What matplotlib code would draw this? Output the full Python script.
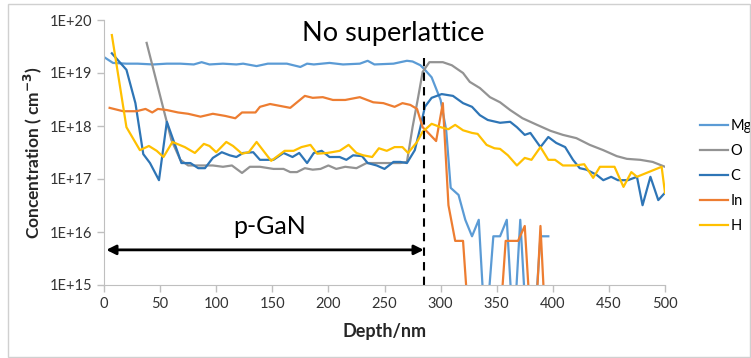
import numpy as np
import matplotlib
matplotlib.use('Agg')
import matplotlib.pyplot as plt
from matplotlib.patches import Rectangle

plt.rcParams['font.family'] = ['Lato', 'DejaVu Sans']

# SIMS depth profiles (depth in nm, concentration in cm^-3)
# 1e14 marks points that fall below the bottom of the axis
mg_depth = [0, 8, 20, 30, 44, 56, 68, 80, 87, 94, 106, 118, 124, 136, 146, 151, 163, 175, 181, 187,
            201, 213, 228, 235, 241, 258, 270, 275, 282, 286, 292, 300, 305, 309, 316, 322, 328, 334,
            340, 347, 353, 359, 365, 371, 377, 383, 389, 396]
mg_conc = [2.0e19, 1.55e19, 1.5e19, 1.5e19, 1.45e19, 1.5e19, 1.5e19, 1.45e19, 1.6e19, 1.45e19, 1.5e19,
           1.45e19, 1.5e19, 1.35e19, 1.5e19, 1.5e19, 1.5e19, 1.3e19, 1.5e19, 1.45e19, 1.55e19, 1.45e19,
           1.5e19, 1.7e19, 1.45e19, 1.5e19, 1.7e19, 1.65e19, 1.4e19, 1.15e19, 8.3e18, 3.1e18, 8.3e17,
           6.8e16, 5.0e16, 1.7e16, 8.3e15, 1.7e16, 1e14, 8.3e15, 8.3e15, 1.7e16, 1e14, 1.7e16, 1e14,
           1e14, 8.3e15, 8.3e15]

o_depth = [38, 60, 68, 75, 86, 97, 106, 114, 123, 130, 139, 151, 160, 166, 172, 179, 186, 193, 200, 207,
           215, 225, 234, 246, 255, 264, 270, 275, 280, 284, 290, 302, 310, 320, 326, 335, 344, 353, 362,
           373, 386, 398, 409, 421, 433, 445, 457, 466, 478, 489, 500]
o_conc = [3.7e19, 5.5e17, 2.3e17, 1.8e17, 1.8e17, 1.8e17, 1.7e17, 1.8e17, 1.3e17, 1.7e17, 1.7e17, 1.55e17,
          1.55e17, 1.35e17, 1.35e17, 1.6e17, 1.5e17, 1.55e17, 1.8e17, 1.55e17, 1.7e17, 1.6e17, 2.0e17,
          2.0e17, 2.0e17, 2.0e17, 2.1e17, 9.5e17, 3.5e18, 1.05e19, 1.6e19, 1.6e19, 1.4e19, 1.0e19, 6.8e18,
          5.2e18, 3.5e18, 2.8e18, 2.0e18, 1.4e18, 1.05e18, 8.1e17, 6.8e17, 5.9e17, 4.4e17, 3.5e17, 2.7e17,
          2.4e17, 2.3e17, 2.1e17, 1.7e17]

c_depth = [7, 20, 28, 35, 41, 49, 56, 65, 69, 77, 84, 90, 97, 105, 112, 118, 124, 133, 139, 151, 160, 168,
           174, 181, 187, 194, 201, 210, 216, 222, 230, 235, 243, 250, 258, 264, 270, 277, 282, 286, 292,
           301, 311, 320, 328, 335, 342, 353, 362, 368, 375, 380, 389, 396, 403, 411, 418, 424, 430, 439,
           445, 452, 458, 467, 475, 480, 487, 494, 500]
c_conc = [2.35e19, 1.15e19, 2.7e18, 2.95e17, 2.0e17, 9.5e16, 1.2e18, 3.5e17, 2.0e17, 2.0e17, 1.6e17,
          1.6e17, 2.5e17, 3.2e17, 2.8e17, 2.6e17, 3.1e17, 3.2e17, 2.3e17, 2.3e17, 3.1e17, 2.6e17, 3.1e17,
          2.0e17, 3.1e17, 3.4e17, 2.6e17, 2.6e17, 2.3e17, 2.8e17, 2.7e17, 2.0e17, 1.8e17, 1.55e17, 2.1e17,
          2.1e17, 2.0e17, 3.5e17, 9.5e17, 2.3e18, 3.4e18, 4.0e18, 3.7e18, 2.7e18, 2.3e18, 1.6e18, 1.3e18,
          1.15e18, 1.2e18, 9.5e17, 6.8e17, 7.4e17, 4.0e17, 6.2e17, 4.8e17, 4.0e17, 2.3e17, 1.6e17, 1.5e17,
          1.2e17, 9.5e16, 1.1e17, 9.5e16, 9.5e16, 1.1e17, 3.2e16, 1.1e17, 4.0e16, 5.5e16]

in_depth = [5, 17, 29, 37, 43, 48, 56, 66, 75, 86, 97, 108, 117, 123, 135, 139, 148, 166, 179, 186, 195,
            204, 215, 228, 240, 249, 259, 266, 273, 279, 284, 288, 296, 302, 307, 313, 320, 326, 352, 358,
            364, 369, 375, 381, 384, 389, 394]
in_conc = [2.2e18, 1.9e18, 1.9e18, 2.1e18, 1.8e18, 2.1e18, 2.0e18, 1.8e18, 1.7e18, 1.5e18, 1.7e18,
           1.55e18, 1.4e18, 1.8e18, 1.8e18, 2.3e18, 2.6e18, 2.2e18, 3.7e18, 3.4e18, 3.5e18, 3.1e18, 3.1e18,
           3.5e18, 2.8e18, 2.7e18, 2.3e18, 2.7e18, 2.5e18, 2.1e18, 9.5e17, 7.8e17, 5.2e17, 2.7e18, 3.2e16,
           6.8e15, 6.8e15, 1e14, 1e14, 6.8e15, 6.8e15, 6.8e15, 1.3e16, 1e14, 1e14, 1.3e16, 1e14]

h_depth = [7, 20, 32, 40, 47, 53, 61, 72, 81, 89, 94, 100, 109, 115, 123, 129, 136, 149, 161, 169, 176,
           184, 190, 199, 203, 210, 218, 225, 231, 239, 245, 252, 259, 266, 271, 279, 284, 292, 300, 307,
           313, 320, 328, 333, 341, 348, 353, 360, 368, 375, 381, 389, 396, 402, 409, 420, 428, 436, 442,
           455, 463, 470, 475, 497, 500]
h_conc = [5.2e19, 9.5e17, 3.5e17, 4.2e17, 3.4e17, 2.6e17, 5.0e17, 4.0e17, 3.1e17, 4.6e17, 4.2e17, 3.2e17,
          5.0e17, 4.2e17, 3.0e17, 3.2e17, 5.0e17, 2.2e17, 3.4e17, 3.4e17, 4.0e17, 4.4e17, 3.0e17, 3.1e17,
          3.2e17, 3.4e17, 4.4e17, 3.1e17, 2.8e17, 2.6e17, 3.8e17, 3.4e17, 4.0e17, 4.0e17, 3.1e17, 5.0e17,
          7.8e17, 1.1e18, 9.5e17, 8.7e17, 1.05e18, 8.3e17, 7.4e17, 7.1e17, 4.4e17, 3.8e17, 3.7e17, 2.8e17,
          1.8e17, 2.5e17, 2.3e17, 4.0e17, 2.3e17, 2.3e17, 1.8e17, 1.8e17, 1.9e17, 1.05e17, 1.7e17, 1.7e17,
          7.1e16, 1.35e17, 1.1e17, 1.7e17, 5.5e16]

x_ticks = [0, 50, 100, 150, 200, 250, 300, 350, 400, 450, 500]
y_ticks = [1e15, 1e16, 1e17, 1e18, 1e19, 1e20]
y_tick_labels = ['1E+15', '1E+16', '1E+17', '1E+18', '1E+19', '1E+20']

interface_depth = 285  # end of the p-GaN layer

fig = plt.figure(figsize=(7.51, 3.58), dpi=100)
ax = fig.add_axes([104 / 751, 1 - 285 / 358, (665 - 104) / 751, (285 - 20) / 358])

ax.plot(mg_depth, mg_conc, color='#5B9BD5', lw=1.6, label='Mg')
ax.plot(o_depth, o_conc, color='#939393', lw=1.6, label='O')
ax.plot(c_depth, c_conc, color='#2E75B6', lw=1.6, label='C')
ax.plot(in_depth, in_conc, color='#ED7D31', lw=1.6, label='In')
ax.plot(h_depth, h_conc, color='#FFC000', lw=1.6, label='H')

ax.set_yscale('log')
ax.set_xlim(0, 500)
ax.set_ylim(1e15, 1e20)
ax.set_xticks(x_ticks)
ax.set_yticks(y_ticks)
ax.set_yticklabels(y_tick_labels)
ax.minorticks_off()
ax.tick_params(axis='both', labelsize=10.5, colors='#BFBFBF', labelcolor='#333333', length=5, width=1)

for side in ['top', 'right']:
    ax.spines[side].set_visible(False)
for side in ['left', 'bottom']:
    ax.spines[side].set_color('#BFBFBF')

ax.set_xlabel('Depth/nm', fontsize=13, fontweight='bold', color='#262626', labelpad=9)
ax.set_ylabel('Concentration ( cm$^{\\mathbf{-3}}$)', fontsize=12.5, fontweight='bold', color='#262626',
              labelpad=4)

# interface marker and p-GaN annotation
ax.plot([interface_depth, interface_depth], [1e15, 1.9e19], color='black', lw=1.5, ls=(0, (4, 3)))
ax.annotate('', xy=(2, 4.6e15), xytext=(interface_depth, 4.6e15),
            arrowprops=dict(arrowstyle='<|-|>', color='black', lw=2, mutation_scale=14, shrinkA=0, shrinkB=0))
ax.text(148, 1.25e16, 'p-GaN', fontsize=18, ha='center', va='center', color='black')
ax.text(258, 5.6e19, 'No superlattice', fontsize=19.5, ha='center', va='center', color='black')

ax.legend(loc='upper left', bbox_to_anchor=(700 / 751, 1 - 119 / 358), bbox_transform=fig.transFigure,
          frameon=False, fontsize=10.5, handlelength=1.95, handletextpad=0.15, labelspacing=0.75,
          borderpad=0, borderaxespad=0)

fig.patches.append(Rectangle((8 / 751, 1 / 358), 742 / 751, 353 / 358, transform=fig.transFigure,
                             fill=False, edgecolor='#D0D0D0', lw=1))

plt.savefig('out.png', dpi=100)
